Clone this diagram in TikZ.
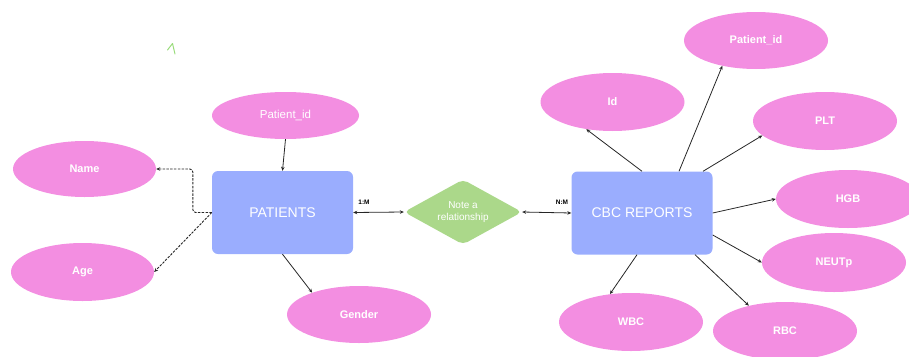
\documentclass[tikz,border=0pt]{standalone}
\usepackage{fontspec}
\setmainfont{Liberation Sans}
\usetikzlibrary{shapes.geometric,arrows.meta}
\definecolor{attrpink}{HTML}{F38EE1}
\definecolor{entblue}{HTML}{9AADFE}
\definecolor{relgreen}{HTML}{ABD88A}
\begin{document}
\begin{tikzpicture}[x=1pt,y=-1pt,
  attr/.style={ellipse,fill=attrpink,draw=none,minimum width=144pt,minimum height=57pt,inner sep=0pt,text=white,font=\bfseries\fontsize{11}{13}\selectfont},
  entity/.style={rectangle,rounded corners=6pt,fill=entblue,minimum width=141pt,minimum height=83pt,inner sep=0pt,text=white,font=\fontsize{14}{16}\selectfont},
  rel/.style={diamond,rounded corners=5pt,fill=relgreen,aspect=1.82,minimum width=118pt,minimum height=65pt,inner sep=0pt,text=white,align=center,font=\fontsize{10}{12.6}\selectfont},
  conn/.style={-{Stealth[length=4pt,width=3.5pt]},line width=0.8pt,black!85},
  dashconn/.style={conn,dash pattern=on 2.5pt off 1.3pt,line width=0.9pt},
  bi/.style={{Stealth[length=4pt,width=3.5pt]}-{Stealth[length=4pt,width=3.5pt]},line width=0.8pt,black!85},
  card/.style={font=\bfseries\fontsize{6.5}{7}\selectfont,inner sep=0pt}]
\useasboundingbox (0,0) rectangle (909,356);
% entities
\node[entity] (P) at (282.5,212.5) {PATIENTS};
\node[entity] (C) at (642,213) {CBC REPORTS};
\node[rel] (D) at (463,212) {Note a\\relationship};
% patient attributes
\node[attr,font=\fontsize{11.5}{13}\selectfont,minimum width=147pt,minimum height=47pt] (PidL) at (285.5,115.5) {Patient\_id};
\node[attr,minimum width=143pt,minimum height=56pt] (Name) at (84.5,169) {Name};
\node[attr,minimum width=143pt,minimum height=58pt] (Age) at (82.5,272) {Age};
\node[attr] (Gender) at (359,314.5) {Gender};
% cbc attributes
\node[attr] (PidR) at (756,40.5) {Patient\_id};
\node[attr,minimum height=58pt] (Id) at (612.5,102) {Id};
\node[attr,minimum height=58pt] (PLT) at (825,121) {PLT};
\node[attr,minimum height=58pt] (HGB) at (848,199) {HGB};
\node[attr,minimum height=59pt] (NEUT) at (834,262.5) {NEUTp};
\node[attr,minimum height=58pt] (WBC) at (631,322) {WBC};
\node[attr,minimum height=58pt] (RBC) at (785,331) {RBC};
% patient connectors
\draw[conn] (PidL.south) -- (P.north);
\draw[dashconn,rounded corners=3pt] (P.west) -- ++(-19,0) |- (Name.east);
\draw[dashconn] (P.west) -- (Age.east);
\draw[conn] (P.south) -- (Gender.155);
% relationship
\draw[bi] (P.east) -- (D.west);
\draw[bi] (D.east) -- (C.west);
\node[card] (c1) at (364,202) {1:M};
\node[card] (c2) at (562,202) {N:M};
% cbc connectors
\draw[conn] (C.north) -- (Id.226);
\draw[conn] ([xshift=37pt]C.north) -- (PidR.217);
\draw[conn] ([xshift=61pt]C.north) -- (PLT.193);
\draw[conn] (C.east) -- (HGB.west);
\draw[conn] ([yshift=-22pt]C.east) -- (NEUT.west);
\draw[conn] ([xshift=-5pt]C.south) -- (WBC.127);
\draw[conn] ([xshift=53pt]C.south) -- (RBC.145);
% stray mark
\draw[relgreen!90!green,line width=1pt,line cap=round,line join=round] (167.5,50) -- (172.5,43.5) -- (175,54);
\end{tikzpicture}
\end{document}
